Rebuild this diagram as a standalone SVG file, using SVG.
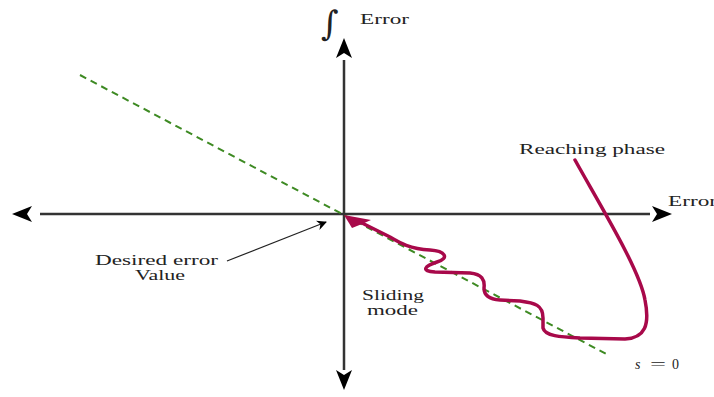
<svg xmlns="http://www.w3.org/2000/svg" width="714" height="397" viewBox="0 0 714 397">
<style>
text{font-family:"Liberation Serif","DejaVu Serif",serif;font-size:14px;fill:#222}
.ax{stroke:#333;stroke-width:2.5;fill:none}
</style>
<defs>
<marker id="ah" markerWidth="10" markerHeight="10" refX="9" refY="5" orient="auto" markerUnits="userSpaceOnUse" viewBox="0 0 10 10">
<path d="M0,0 L10,5 L0,10 L3,5 Z" fill="#000"/>
</marker>
</defs>
<g id="connectors">
<line class="ax" x1="40" y1="214" x2="650" y2="214"/>
<path d="M12,214 L32,206 L27,214 L32,222 Z" fill="#000"/>
<path d="M672,214 L652,206 L657,214 L652,222 Z" fill="#000"/>
<line class="ax" x1="344" y1="60" x2="344" y2="370"/>
<path d="M344,38 L336,58 L344,53 L352,58 Z" fill="#000"/>
<path d="M344,390 L336,370 L344,375 L352,370 Z" fill="#000"/>
<line x1="80" y1="75" x2="610" y2="356" stroke="#3e8a23" stroke-width="2" stroke-dasharray="7,5"/>
<path d="M575,160 C600,205 640,270 645,300 C650,325 645,338 625,339 L580,338 C560,337 545,336 543,328 L543,318 C543,305 535,303 520,301 L500,300 C485,299 484,292 484,288 C485,280 482,274 470,273 L435,272 C420,271 425,266 437,262 C450,258 445,251 430,250 C410,249 400,243 390,237 L360,222" fill="none" stroke="#a8094a" stroke-width="3.5" stroke-linecap="round"/>
<path d="M344,215 L371,220 L362,224 L352,228 Z" fill="#a8094a"/>
<line x1="227" y1="261" x2="326" y2="222" stroke="#222" stroke-width="1.2" marker-end="url(#ah)"/>
</g>
<g id="labels">
<text x="321" y="35" style="font-family:'DejaVu Serif',serif;font-size:34px;font-style:italic">∫</text>
<text x="360" y="24" textLength="49" lengthAdjust="spacingAndGlyphs">Error</text>
<text x="519" y="154" textLength="146" lengthAdjust="spacingAndGlyphs">Reaching phase</text>
<text x="668" y="206" textLength="49" lengthAdjust="spacingAndGlyphs">Error</text>
<text x="95" y="265" textLength="123" lengthAdjust="spacingAndGlyphs">Desired error</text>
<text x="135" y="280" textLength="50" lengthAdjust="spacingAndGlyphs">Value</text>
<text x="362" y="300" textLength="62" lengthAdjust="spacingAndGlyphs">Sliding</text>
<text x="367" y="315" textLength="51" lengthAdjust="spacingAndGlyphs">mode</text>
<text x="635" y="369" font-style="italic">s</text>
<text x="650" y="369" textLength="16" lengthAdjust="spacingAndGlyphs">=</text>
<text x="672" y="369">0</text>
</g>
</svg>
